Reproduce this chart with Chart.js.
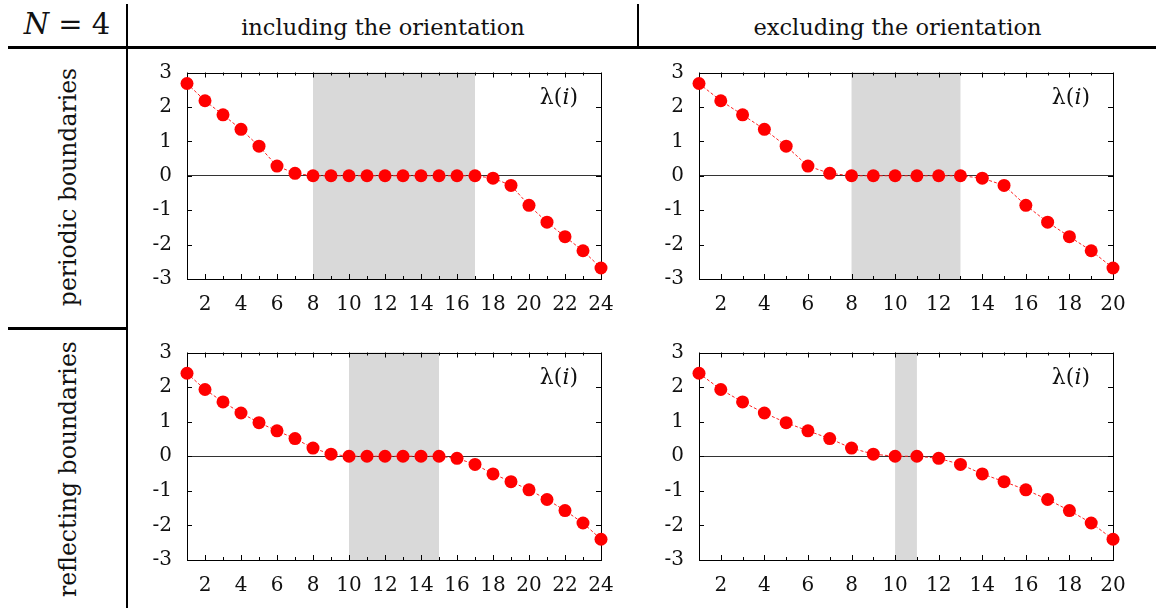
<!DOCTYPE html>
<html>
<head>
<meta charset="utf-8">
<script src="https://cdn.jsdelivr.net/npm/chart.js@4.4.1/dist/chart.umd.min.js"></script>
<style>
  html, body { margin: 0; padding: 0; background: #fff; }
  body { width: 1156px; height: 608px; position: relative; overflow: hidden; font-family: "DejaVu Serif", "Liberation Serif", serif; color: #111; }
  .rule { position: absolute; background: #000; }
  .hdr { position: absolute; top: 12px; height: 30px; line-height: 30px; font-size: 22.5px; text-align: center; white-space: nowrap; }
  .row { position: absolute; width: 300px; height: 30px; line-height: 30px; font-size: 23.5px; text-align: center; white-space: nowrap; transform: rotate(-90deg); }
  .panel { position: absolute; width: 495px; }
</style>
</head>
<body>
<!-- table rules -->
<div class="rule" style="left:8px; top:46px; width:1148px; height:3px;"></div>
<div class="rule" style="left:126px; top:4px; width:2px; height:604px;"></div>
<div class="rule" style="left:637px; top:4px; width:2px; height:42px;"></div>
<div class="rule" style="left:8px; top:327px; width:119px; height:3px;"></div>

<!-- header texts -->
<div class="hdr" style="left:8px; width:118px; top:9px; font-size:29px;"><i>N</i>&nbsp;=&nbsp;4</div>
<div class="hdr" id="h1" style="left:128px; width:510px;"></div>
<div class="hdr" id="h2" style="left:639px; width:517px;"></div>
<div class="row" id="r1" style="left:-82px; top:172px;"></div>
<div class="row" id="r2" style="left:-82px; top:454px;"></div>

<div class="panel" style="left:130px; top:60px; height:260px;"><canvas id="c1"></canvas></div>
<div class="panel" style="left:642px; top:60px; height:260px;"><canvas id="c2"></canvas></div>
<div class="panel" style="left:130px; top:340px; height:261px;"><canvas id="c3"></canvas></div>
<div class="panel" style="left:642px; top:340px; height:261px;"><canvas id="c4"></canvas></div>

<script>
// ---------------- data ----------------
const columnTitles = ["including the orientation", "excluding the orientation"];
const rowTitles = ["periodic boundaries", "reflecting boundaries"];

const yTicks = [-3, -2, -1, 0, 1, 2, 3];
const xTicks24 = [2, 4, 6, 8, 10, 12, 14, 16, 18, 20, 22, 24];
const xTicks20 = [2, 4, 6, 8, 10, 12, 14, 16, 18, 20];

// periodic boundaries, including orientation (i = 1..24)
const periodicIncl = [2.68, 2.18, 1.77, 1.35, 0.86, 0.28, 0.07,
  0, 0, 0, 0, 0, 0, 0, 0, 0, 0,
  -0.07, -0.28, -0.86, -1.35, -1.77, -2.18, -2.68];
// periodic boundaries, excluding orientation (i = 1..20)
const periodicExcl = [2.68, 2.18, 1.77, 1.35, 0.86, 0.28, 0.07,
  0, 0, 0, 0, 0, 0,
  -0.07, -0.28, -0.86, -1.35, -1.77, -2.18, -2.68];
// reflecting boundaries, including orientation (i = 1..24)
const reflectIncl = [2.40, 1.93, 1.57, 1.25, 0.97, 0.735, 0.51, 0.235, 0.06,
  0, 0, 0, 0, 0, 0,
  -0.06, -0.235, -0.51, -0.735, -0.97, -1.25, -1.57, -1.93, -2.40];
// reflecting boundaries, excluding orientation (i = 1..20)
const reflectExcl = [2.40, 1.93, 1.57, 1.25, 0.97, 0.735, 0.51, 0.235, 0.06,
  0, 0,
  -0.06, -0.235, -0.51, -0.735, -0.97, -1.25, -1.57, -1.93, -2.40];

// shaded index ranges (zero-eigenvalue band)
const shadePeriodicIncl = [8, 17];
const shadePeriodicExcl = [8, 13];
const shadeReflectIncl = [10, 15];
const shadeReflectExcl = [10, 11];

const FONT = '"DejaVu Serif", "Liberation Serif", serif';

// ---------------- text ----------------
document.getElementById('h1').textContent = columnTitles[0];
document.getElementById('h2').textContent = columnTitles[1];
document.getElementById('r1').textContent = rowTitles[0];
document.getElementById('r2').textContent = rowTitles[1];

// ---------------- plugin: shading, frame, inward ticks, label ----------------
const framePlugin = {
  id: 'frame',
  beforeDraw(chart, args, opts) {
    const { ctx, chartArea: a, scales: { x } } = chart;
    const x0 = x.getPixelForValue(opts.shade[0]);
    const x1 = x.getPixelForValue(opts.shade[1]);
    ctx.save();
    ctx.fillStyle = '#d9d9d9';
    ctx.fillRect(x0, a.top, x1 - x0, a.bottom - a.top);
    ctx.restore();
  },
  beforeDatasetsDraw(chart, args, opts) {
    const { ctx, chartArea: a, scales: { x, y } } = chart;
    ctx.save();
    ctx.strokeStyle = '#000';
    ctx.lineWidth = 1;
    ctx.strokeRect(Math.round(a.left) + 0.5, Math.round(a.top) + 0.5,
      Math.round(a.right) - Math.round(a.left), Math.round(a.bottom) - Math.round(a.top));
    ctx.beginPath();
    for (let v = Math.ceil(x.min); v <= x.max; v++) {
      const px = Math.round(x.getPixelForValue(v)) + 0.5;
      const len = (v % 2 === 0) ? 5 : 3;
      ctx.moveTo(px, a.bottom); ctx.lineTo(px, a.bottom - len);
      ctx.moveTo(px, a.top); ctx.lineTo(px, a.top + len);
    }
    y.ticks.forEach(t => {
      const py = Math.round(y.getPixelForValue(t.value)) + 0.5;
      ctx.moveTo(a.left, py); ctx.lineTo(a.left + 5, py);
      ctx.moveTo(a.right, py); ctx.lineTo(a.right - 5, py);
    });
    ctx.stroke();
    // λ(i) label
    ctx.fillStyle = '#111';
    ctx.textBaseline = 'alphabetic';
    const parts = [
      ['λ(', '22px ' + FONT],
      ['i', 'italic 22px ' + FONT],
      [')', '22px ' + FONT]
    ];
    let total = 0;
    parts.forEach(p => { ctx.font = p[1]; total += ctx.measureText(p[0]).width; });
    let tx = a.right - 23 - total;
    const ty = a.top + 31;
    parts.forEach(p => { ctx.font = p[1]; ctx.fillText(p[0], tx, ty); tx += ctx.measureText(p[0]).width; });
    ctx.restore();
  }
};

function makePanel(id, values, xTicks, shade) {
  const pts = values.map((v, i) => ({ x: i + 1, y: v }));
  const n = values.length;
  new Chart(document.getElementById(id), {
    type: 'scatter',
    data: {
      datasets: [{
        data: pts,
        showLine: true,
        borderColor: '#ff2020',
        borderWidth: 1,
        borderDash: [3, 2],
        pointRadius: 6.5,
        pointHoverRadius: 6.5,
        pointBackgroundColor: '#ff0000',
        pointBorderWidth: 0,
        clip: false
      }]
    },
    options: {
      responsive: true,
      maintainAspectRatio: false,
      animation: false,
      events: [],
      layout: { padding: { top: 12.5, right: 24, left: 0, bottom: 0 } },
      plugins: {
        legend: { display: false },
        tooltip: { enabled: false },
        frame: { shade: shade }
      },
      scales: {
        x: {
          type: 'linear',
          min: 1,
          max: n,
          afterFit: s => { s.height = 41; s.paddingLeft = 0; s.paddingRight = 0; },
          afterBuildTicks: s => { s.ticks = xTicks.map(v => ({ value: v })); },
          grid: { display: false, drawTicks: false },
          border: { display: false },
          ticks: {
            autoSkip: false,
            maxRotation: 0,
            padding: 14,
            color: '#111',
            font: { family: FONT, size: 20 },
            callback: v => String(v)
          }
        },
        y: {
          min: -3,
          max: 3,
          afterFit: s => { s.width = 57; s.paddingTop = 0; s.paddingBottom = 0; },
          afterBuildTicks: s => { s.ticks = yTicks.map(v => ({ value: v })); },
          grid: {
            drawTicks: false,
            color: c => (c.tick && c.tick.value === 0) ? '#333' : 'rgba(0,0,0,0)',
            lineWidth: 1
          },
          border: { display: false },
          ticks: {
            padding: 15,
            color: '#111',
            font: { family: FONT, size: 20 },
            callback: v => String(v)
          }
        }
      }
    },
    plugins: [framePlugin]
  });
}

makePanel('c1', periodicIncl, xTicks24, shadePeriodicIncl);
makePanel('c2', periodicExcl, xTicks20, shadePeriodicExcl);
makePanel('c3', reflectIncl, xTicks24, shadeReflectIncl);
makePanel('c4', reflectExcl, xTicks20, shadeReflectExcl);
</script>
</body>
</html>
